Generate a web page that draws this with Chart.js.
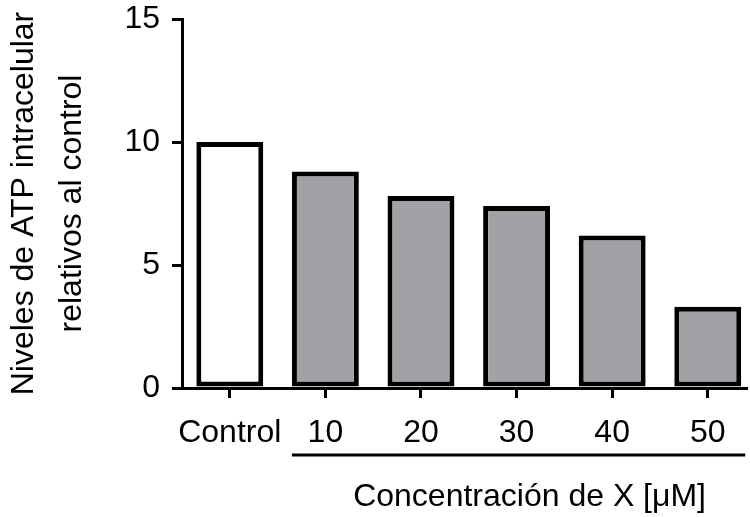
<!DOCTYPE html>
<html>
<head>
<meta charset="utf-8">
<script src="https://cdn.jsdelivr.net/npm/chart.js@4/dist/chart.umd.min.js"></script>
<style>
    html, body { margin: 0; padding: 0; background: #fff; }
    #wrap { width: 750px; height: 517px; }
</style>
</head>
<body>
<div id="wrap"><canvas id="atpChart" width="750" height="517"></canvas></div>
<script>
// Data
const categories = ['Control', '10', '20', '30', '40', '50'];
const atpValues = [10.0, 8.8, 7.8, 7.4, 6.2, 3.3];
const barColors = ['#ffffff', '#a2a1a6', '#a2a1a6', '#a2a1a6', '#a2a1a6', '#a2a1a6'];
const yTicks = [0, 5, 10, 15];
const yTitle = ['Niveles de ATP intracelular', 'relativos al control'];
const xTitle = 'Concentración de X [μM]';

const fontFamily = '"Liberation Sans", Arial, sans-serif';
const fontSize = 32;

// Line under the concentration groups + its title
const groupLabel = {
    id: 'groupLabel',
    afterDraw(chart) {
        const ctx = chart.ctx;
        const bars = chart.getDatasetMeta(0).data;
        const first = bars[1];
        const last = bars[bars.length - 1];
        const x1 = first.x - first.width / 2;
        const x2 = last.x + last.width / 2 + 4;
        const y = 455;
        ctx.save();
        ctx.strokeStyle = '#000';
        ctx.lineWidth = 3;
        ctx.beginPath();
        ctx.moveTo(x1, y);
        ctx.lineTo(x2, y);
        ctx.stroke();
        ctx.fillStyle = '#000';
        ctx.font = fontSize + 'px ' + fontFamily;
        ctx.textAlign = 'center';
        ctx.textBaseline = 'middle';
        ctx.fillText(xTitle, (x1 + x2) / 2 + 11, 497);
        ctx.restore();
    }
};

const ctx = document.getElementById('atpChart').getContext('2d');
const atpChart = new Chart(ctx, {
    type: 'bar',
    data: {
        datasets: [{
            data: atpValues.map((v, i) => ({ x: i, y: v })),
            backgroundColor: barColors,
            borderColor: '#000',
            borderWidth: 5,
            borderSkipped: false,
            barPercentage: 0.7,
            categoryPercentage: 1.0
        }]
    },
    options: {
        responsive: false,
        animation: false,
        devicePixelRatio: 1,
        layout: {
            padding: { top: 19, right: 4, bottom: 0, left: 0 }
        },
        plugins: {
            legend: { display: false },
            tooltip: { enabled: false }
        },
        scales: {
            x: {
                type: 'linear',
                offset: false,
                min: -0.5,
                max: 5.4,
                afterBuildTicks(scale) {
                    scale.ticks = categories.map((c, i) => ({ value: i }));
                },
                grid: {
                    display: true,
                    offset: false,
                    drawOnChartArea: false,
                    color: '#000',
                    lineWidth: 3,
                    tickLength: 10
                },
                border: { color: '#000', width: 3 },
                ticks: {
                    color: '#000',
                    font: { family: fontFamily, size: fontSize },
                    padding: 16,
                    maxRotation: 0,
                    autoSkip: false,
                    callback: (v) => categories[v]
                },
                afterFit(scale) {
                    scale.height = 129;
                    scale.paddingLeft = 0;
                    scale.paddingRight = 0;
                }
            },
            y: {
                min: 0,
                max: 15,
                afterBuildTicks(scale) {
                    scale.ticks = yTicks.map(v => ({ value: v }));
                },
                grid: {
                    display: true,
                    drawOnChartArea: false,
                    color: '#000',
                    lineWidth: 3,
                    tickLength: 10
                },
                border: { color: '#000', width: 3 },
                ticks: {
                    color: '#000',
                    font: { family: fontFamily, size: fontSize },
                    padding: 12
                },
                title: {
                    display: true,
                    text: yTitle,
                    color: '#000',
                    font: { family: fontFamily, size: fontSize, lineHeight: 1.5 },
                    padding: { top: 0, bottom: 0 }
                },
                afterFit(scale) {
                    scale.width = 182;
                    scale.paddingTop = 0;
                    scale.paddingBottom = 0;
                }
            }
        }
    },
    plugins: [groupLabel]
});
</script>
</body>
</html>
